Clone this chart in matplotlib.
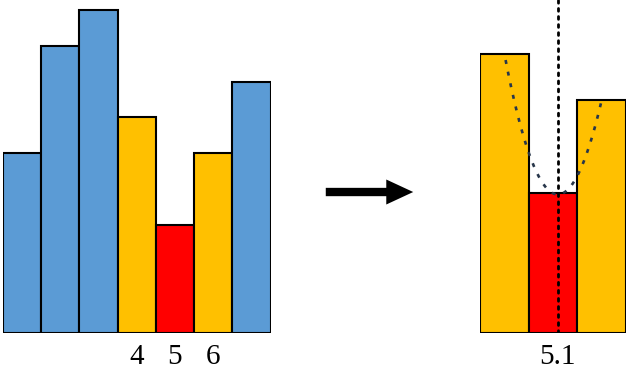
import numpy as np
import matplotlib.pyplot as plt

# histogram bins and counts (left panel)
bins = np.arange(1, 8)
counts = np.array([5, 8, 9, 6, 3, 5, 7])
colors = ['#5b9bd5', '#5b9bd5', '#5b9bd5', '#ffc000', '#ff0000', '#ffc000', '#5b9bd5']
win = [4, 5, 6]   # bins used for the parabola fit
win_colors = ['#ffc000', '#ff0000', '#ffc000']

plt.rcParams['font.family'] = ['Liberation Serif', 'DejaVu Serif']

fig = plt.figure(figsize=(6.29, 3.74), dpi=100)

# left: full histogram
ax1 = fig.add_axes([2.7 / 629, 41 / 374, 268 / 629, 333 / 374])
ax1.bar(bins, counts, width=1.0, color=colors, edgecolor='black', lw=1.5)
ax1.set_xlim(0.5, 7.5)
ax1.set_ylim(0, 9.27)
ax1.set_xticks(win)
ax1.set_xticklabels([str(b) for b in win])

# right: zoom on the window plus the fitted parabola
wc = counts[np.isin(bins, win)]
p = np.polyfit(win, wc, 2)
xv = -p[1] / (2 * p[0])

ax2 = fig.add_axes([480 / 629, 41 / 374, 146 / 629, 333 / 374])
ax2.bar(win, wc, width=1.0, color=win_colors, edgecolor='black', lw=1.5)
xx = np.linspace(win[0], win[-1], 200)
ax2.plot(xx, np.polyval(p, xx), color='#27364a', lw=1.9,
         ls=(2, (1.5, 3.0)), zorder=3)
ax2.axvline(xv, color='black', lw=2.0, ls=(0, (1, 1.9)),
            dash_capstyle='round', zorder=4)
ax2.set_xlim(3.5, 6.5)
ax2.set_ylim(0, 7.15)
ax2.set_xticks([xv])
ax2.set_xticklabels(['%.1f' % xv])

for ax in (ax1, ax2):
    for s in ax.spines.values():
        s.set_visible(False)
    ax.set_yticks([])
    ax.tick_params(axis='x', length=0, pad=8, labelsize=21)

# arrow between the panels
fig.patches.append(plt.matplotlib.patches.FancyArrowPatch(
    (323 / 629, 0.4866), (416 / 629, 0.4866), transform=fig.transFigure,
    arrowstyle='simple,head_length=0.97,head_width=0.9,tail_width=0.3',
    mutation_scale=20, color='black', lw=0))

fig.savefig('out.png', dpi=100)
